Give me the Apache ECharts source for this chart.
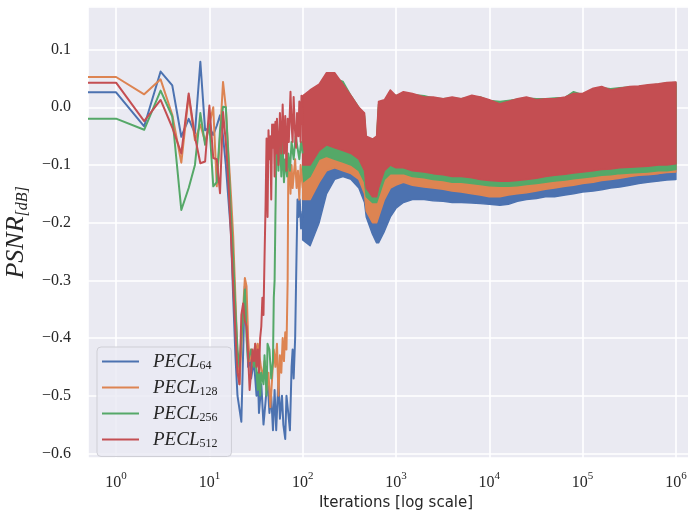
<!DOCTYPE html>
<html>
<head>
<meta charset="utf-8">
<script src="https://cdn.jsdelivr.net/npm/echarts@6.0.0/dist/echarts.min.js"></script>
<style>
  html, body { margin: 0; padding: 0; background: #ffffff; }
  #chart { width: 688px; height: 514px; }
</style>
</head>
<body>
<div id="chart"></div>
<script>
// ---------------- data ----------------
const seriesNames = ['PECL64', 'PECL128', 'PECL256', 'PECL512'];
const xTickExponents = [0, 1, 2, 3, 4, 5, 6];
const yTickValues = [-0.6, -0.5, -0.4, -0.3, -0.2, -0.1, 0.0, 0.1];

// Early, individually readable part of each curve: [iteration, PSNR]
// (iteration 0 lies at -inf on a log axis; it is clipped to the axis edge as matplotlib does)
const pecl64Early = [[0,0.026],[1,0.026],[2,-0.033],[3,0.062],[4,0.038],[5,-0.051],[6,-0.02],[7,-0.045],[8,0.079],[9,-0.04],[10,-0.035],[11,-0.048],[12,-0.032],[13,-0.014],[14,-0.05],[15,-0.10],[16,-0.16],[17,-0.216],[18,-0.33],[19,-0.43],[20,-0.50],[22,-0.545],[24,-0.31],[25,-0.36],[26,-0.45],[27,-0.43],[28,-0.47],[30,-0.44],[31,-0.47],[32,-0.50],[33,-0.46],[34,-0.53],[36,-0.48],[38,-0.55],[40,-0.51],[42,-0.47],[44,-0.53],[46,-0.50],[48,-0.56],[50,-0.49],[52,-0.56],[55,-0.47],[57,-0.54],[60,-0.50],[62,-0.55],[65,-0.575],[67,-0.50],[70,-0.53],[73,-0.56],[76,-0.45],[78,-0.42],[80,-0.47],[83,-0.40],[86,-0.25],[88,-0.16],[90,-0.19],[93,-0.16],[96,-0.21],[100,-0.18]];
const pecl128Early = [[0,0.0525],[1,0.0525],[2,0.0225],[3,0.0485],[4,-0.013],[5,-0.096],[6,0.02],[7,-0.057],[8,-0.03],[9,-0.06],[10,-0.03],[11,0.0],[12,-0.137],[13,-0.05],[14,0.044],[15,0.0],[16,-0.08],[17,-0.15],[18,-0.224],[19,-0.33],[20,-0.43],[21,-0.48],[23,-0.35],[24,-0.296],[25,-0.31],[26,-0.40],[27,-0.44],[28,-0.42],[30,-0.43],[31,-0.41],[32,-0.43],[33,-0.41],[35,-0.44],[37,-0.47],[39,-0.44],[41,-0.49],[43,-0.46],[45,-0.52],[47,-0.47],[49,-0.42],[51,-0.45],[53,-0.41],[55,-0.50],[57,-0.43],[59,-0.46],[61,-0.40],[63,-0.44],[65,-0.39],[67,-0.42],[69,-0.30],[70,-0.12],[72,-0.09],[74,-0.15],[76,-0.10],[78,-0.14],[80,-0.12],[83,-0.09],[86,-0.14],[89,-0.11],[92,-0.16],[95,-0.10],[100,-0.14]];
const pecl256Early = [[0,-0.0197],[1,-0.0197],[2,-0.039],[3,0.029],[4,-0.016],[5,-0.178],[6,-0.14],[7,-0.10],[8,-0.010],[9,-0.065],[10,-0.03],[11,-0.137],[12,-0.13],[13,-0.04],[14,0.001],[15,0.0],[16,-0.09],[17,-0.184],[18,-0.26],[19,-0.35],[20,-0.42],[21,-0.45],[22,-0.40],[24,-0.316],[25,-0.40],[26,-0.44],[28,-0.42],[30,-0.45],[31,-0.43],[33,-0.49],[34,-0.45],[35,-0.50],[36,-0.46],[38,-0.48],[39,-0.43],[41,-0.50],[42,-0.41],[44,-0.42],[46,-0.47],[48,-0.44],[49,-0.33],[50,-0.30],[51,-0.19],[52,-0.10],[53,-0.025],[55,-0.11],[57,-0.04],[59,-0.12],[61,-0.06],[63,-0.13],[65,-0.09],[68,-0.12],[70,-0.08],[73,-0.11],[76,-0.06],[80,-0.09],[84,-0.05],[88,-0.07],[92,-0.09],[96,-0.06],[100,-0.08]];
const pecl512Early = [[0,0.0427],[1,0.0427],[2,-0.024],[3,0.0127],[4,-0.035],[5,-0.080],[6,0.024],[7,-0.051],[8,-0.097],[9,-0.094],[10,0.003],[11,-0.088],[12,-0.09],[13,-0.149],[14,-0.008],[15,-0.06],[16,-0.13],[17,-0.22],[18,-0.31],[19,-0.39],[20,-0.46],[21,-0.48],[22,-0.36],[23,-0.34],[24,-0.37],[25,-0.38],[26,-0.43],[27,-0.49],[28,-0.46],[29,-0.42],[30,-0.44],[31,-0.41],[32,-0.45],[33,-0.42],[34,-0.46],[35,-0.40],[36,-0.38],[37,-0.33],[38,-0.36],[39,-0.26],[40,-0.17],[41,-0.054],[42,-0.19],[43,-0.04],[44,-0.09],[45,-0.05],[46,-0.16],[47,-0.03],[48,-0.07],[49,-0.03],[50,-0.12],[51,-0.025],[52,-0.08],[53,-0.02],[55,-0.10],[57,-0.01],[59,-0.08],[61,0.005],[63,-0.08],[65,-0.015],[67,-0.11],[69,-0.02],[71,-0.06],[74,0.027],[76,-0.03],[78,-0.06],[80,0.018],[82,-0.03],[85,-0.07],[87,-0.01],[90,-0.05],[92,0.01],[95,-0.06],[97,0.02],[100,-0.03]];

// Dense oscillating part (iteration >= 100): upper / lower envelope of each curve
const bandIters = [100,120,150,180,220,270,330,400,460,480,560,620,650,750,870,1000,1200,1500,2000,2500,3200,4000,5000,6500,8000,10000,13000,16000,20000,25000,32000,40000,50000,65000,80000,100000,130000,160000,200000,250000,320000,400000,500000,650000,800000,1000000];

const pecl64Hi = [-0.14,-0.12,-0.07,-0.03,0.0,0.01,0.0,-0.02,-0.03,-0.07,-0.08,-0.07,-0.02,0.0,0.01,0.01,0.015,0.012,0.01,0.01,0.008,0.01,0.008,0.01,0.01,0.005,0.0,0.003,0.008,0.01,0.006,0.008,0.008,0.01,0.015,0.015,0.022,0.025,0.022,0.025,0.028,0.03,0.03,0.033,0.035,0.036];
const pecl64Lo = [-0.23,-0.24,-0.20,-0.15,-0.125,-0.12,-0.125,-0.14,-0.165,-0.19,-0.22,-0.235,-0.235,-0.215,-0.19,-0.175,-0.165,-0.16,-0.16,-0.162,-0.163,-0.165,-0.165,-0.166,-0.167,-0.168,-0.17,-0.168,-0.163,-0.16,-0.158,-0.155,-0.155,-0.152,-0.15,-0.147,-0.145,-0.143,-0.14,-0.138,-0.135,-0.132,-0.13,-0.128,-0.126,-0.125];

const pecl128Hi = [-0.04,-0.02,0.01,0.03,0.04,0.03,0.01,-0.01,-0.02,-0.06,-0.065,-0.06,0.0,0.005,0.02,0.015,0.02,0.018,0.015,0.015,0.012,0.015,0.012,0.015,0.015,0.01,0.005,0.008,0.012,0.015,0.01,0.012,0.012,0.015,0.02,0.02,0.028,0.03,0.027,0.03,0.032,0.033,0.035,0.037,0.04,0.04];
const pecl128Lo = [-0.16,-0.16,-0.13,-0.11,-0.105,-0.11,-0.115,-0.125,-0.15,-0.18,-0.20,-0.20,-0.19,-0.16,-0.14,-0.135,-0.13,-0.135,-0.138,-0.14,-0.142,-0.145,-0.147,-0.15,-0.152,-0.155,-0.155,-0.152,-0.15,-0.148,-0.145,-0.142,-0.14,-0.137,-0.135,-0.132,-0.13,-0.127,-0.125,-0.123,-0.12,-0.118,-0.117,-0.115,-0.113,-0.112];

const pecl256Hi = [0.0,0.01,0.035,0.05,0.05,0.045,0.02,0.0,-0.015,-0.06,-0.06,-0.055,0.005,0.01,0.025,0.02,0.025,0.022,0.02,0.016,0.015,0.016,0.015,0.018,0.018,0.012,0.01,0.012,0.014,0.016,0.015,0.015,0.016,0.017,0.027,0.022,0.03,0.034,0.032,0.034,0.035,0.036,0.038,0.04,0.042,0.043];
const pecl256Lo = [-0.13,-0.12,-0.09,-0.085,-0.09,-0.095,-0.10,-0.11,-0.13,-0.155,-0.165,-0.165,-0.155,-0.125,-0.115,-0.115,-0.115,-0.12,-0.122,-0.125,-0.127,-0.13,-0.13,-0.132,-0.134,-0.136,-0.137,-0.137,-0.136,-0.134,-0.132,-0.13,-0.128,-0.126,-0.124,-0.122,-0.12,-0.118,-0.117,-0.115,-0.114,-0.113,-0.112,-0.11,-0.11,-0.108];

const pecl512Hi = [0.02,0.03,0.04,0.06,0.06,0.04,0.02,0.0,-0.01,-0.05,-0.055,-0.05,0.01,0.013,0.03,0.02,0.027,0.024,0.018,0.018,0.015,0.018,0.015,0.021,0.018,0.013,0.006,0.01,0.015,0.018,0.013,0.015,0.015,0.018,0.024,0.024,0.033,0.036,0.03,0.033,0.036,0.037,0.039,0.041,0.043,0.044];
const pecl512Lo = [-0.10,-0.10,-0.075,-0.065,-0.07,-0.075,-0.08,-0.09,-0.11,-0.14,-0.155,-0.155,-0.14,-0.11,-0.10,-0.105,-0.105,-0.11,-0.112,-0.115,-0.117,-0.12,-0.12,-0.122,-0.125,-0.127,-0.128,-0.128,-0.127,-0.125,-0.123,-0.12,-0.118,-0.116,-0.114,-0.112,-0.11,-0.108,-0.107,-0.105,-0.104,-0.103,-0.102,-0.10,-0.10,-0.098];

// ---------------- styling ----------------
const colors = ['#4C72B0', '#DD8452', '#55A868', '#C44E52'];
const X_MIN = 0.5, X_MAX = 2e6;
const Y_MIN = -0.608, Y_MAX = 0.1744;
const SERIF = 'Liberation Serif';
const TXT = '#262626';

const earlyLists = [pecl64Early, pecl128Early, pecl256Early, pecl512Early];
const bands = [[pecl64Hi, pecl64Lo], [pecl128Hi, pecl128Lo], [pecl256Hi, pecl256Lo], [pecl512Hi, pecl512Lo]];

const lineSeries = seriesNames.map((name, k) => ({
  type: 'line',
  name: name,
  data: earlyLists[k].map(([it, v]) => [Math.max(it, X_MIN), v]),
  symbol: 'none',
  showSymbol: false,
  lineStyle: { color: colors[k], width: 2, join: 'round' },
  itemStyle: { color: colors[k] },
  z: 2,
  silent: true
}));

const bandSeries = seriesNames.map((name, k) => {
  const hi = bands[k][0], lo = bands[k][1];
  const rows = bandIters.map((it, i) => [it, hi[i], lo[i]]);
  return {
    type: 'custom',
    name: name,
    data: rows,
    encode: { x: 0, y: [1, 2] },
    silent: true,
    z: 2,
    renderItem: function (params, api) {
      if (params.dataIndex !== 0) return null;
      const top = rows.map(r => api.coord([r[0], r[1]]));
      const bot = rows.map(r => api.coord([r[0], r[2]])).reverse();
      return {
        type: 'polygon',
        shape: { points: top.concat(bot) },
        style: { fill: colors[k], stroke: colors[k], lineWidth: 1.5, lineJoin: 'round' }
      };
    }
  };
});

const allSeries = lineSeries.concat(bandSeries);

const chart = echarts.init(document.getElementById('chart'), null, { renderer: 'canvas' });
chart.setOption({
  animation: false,
  backgroundColor: '#ffffff',
  grid: {
    left: 88, top: 6.7, right: -16, bottom: 56,
    containLabel: false, outerBoundsMode: 'none',
    show: true, backgroundColor: '#EAEAF2', borderWidth: 0
  },
  xAxis: {
    type: 'log', logBase: 10, min: X_MIN, max: X_MAX,
    axisLine: { show: false }, axisTick: { show: false },
    minorTick: { show: false }, minorSplitLine: { show: false },
    splitLine: { show: true, lineStyle: { color: '#ffffff', width: 1.6 } },
    axisLabel: {
      margin: 13, interval: 0, showMinLabel: true, showMaxLabel: true,
      formatter: function (v) {
        const e = Math.log10(v), r = Math.round(e);
        if (Math.abs(e - r) > 1e-6 || xTickExponents.indexOf(r) < 0) return '';
        return '{b|10}{s|' + r + '}';
      },
      rich: {
        b: { fontFamily: SERIF, fontSize: 16, color: TXT },
        s: { fontFamily: SERIF, fontSize: 11, color: TXT, padding: [0, 0, 12, 0] }
      }
    },
    name: 'Iterations [log scale]',
    nameLocation: 'middle', nameGap: 37,
    nameTextStyle: { fontFamily: 'DejaVu Sans', fontSize: 15, color: TXT }
  },
  yAxis: {
    type: 'value', min: Y_MIN, max: Y_MAX, splitNumber: 8,
    axisLine: { show: false }, axisTick: { show: false },
    splitLine: { show: true, lineStyle: { color: '#ffffff', width: 1.6 } },
    axisLabel: {
      margin: 17, interval: 0,
      fontFamily: SERIF, fontSize: 16, color: TXT,
      formatter: function (v) {
        const hit = yTickValues.some(t => Math.abs(t - v) < 1e-6);
        if (!hit) return '';
        const s = Math.abs(v).toFixed(1);
        return (v < -1e-9 ? '\u2212' : '') + s;
      }
    },
    name: '{a|PSNR}{b|[dB]}',
    nameLocation: 'middle', nameGap: 53,
    nameTextStyle: {
      rich: {
        a: { fontFamily: SERIF, fontStyle: 'italic', fontSize: 26, color: TXT },
        b: { fontFamily: SERIF, fontStyle: 'italic', fontSize: 16, color: TXT, padding: [14, 0, 0, 0] }
      }
    }
  },
  legend: {
    show: true, orient: 'vertical', left: 97, top: 347,
    itemWidth: 37, itemHeight: 14, itemGap: 6.5,
    icon: 'path://M0,0 L37,0 L37,2.2 L0,2.2 Z',
    padding: [5, 14, 7, 5],
    backgroundColor: 'rgba(234,234,242,0.8)',
    borderColor: '#cfcfd6', borderWidth: 1, borderRadius: 4,
    data: seriesNames,
    formatter: function (n) { return '{b|' + n.slice(0, 4) + '}{s|' + n.slice(4) + '}'; },
    textStyle: {
      rich: {
        b: { fontFamily: SERIF, fontStyle: 'italic', fontSize: 19, color: TXT, padding: [0, 0, 0, 9] },
        s: { fontFamily: SERIF, fontSize: 12, color: TXT, padding: [8, 0, 0, 0] }
      }
    }
  },
  series: allSeries
});
</script>
</body>
</html>
